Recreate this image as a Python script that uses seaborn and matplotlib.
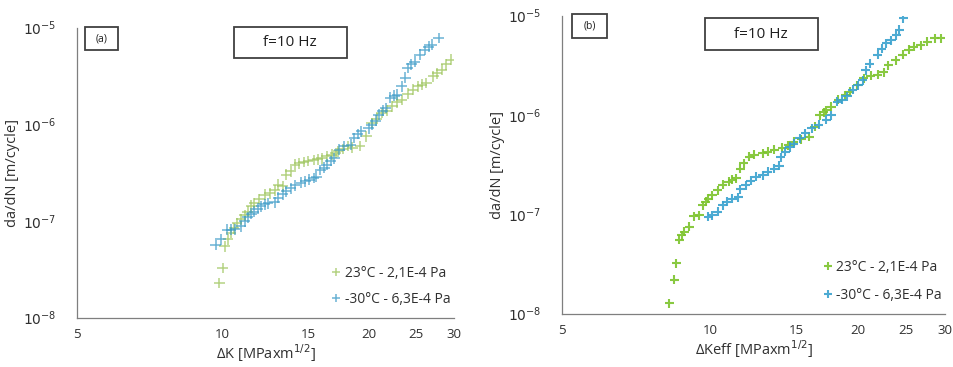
#!/usr/bin/env python3

import pandas as pd
import seaborn as sns
from matplotlib import pyplot as plt
from matplotlib.patches import Rectangle
from matplotlib.ticker import FixedLocator, NullLocator, LogLocator, NullFormatter

# (a) da/dN vs dK
a_green_dk = [9.84, 10.0, 10.1, 10.25, 10.4, 10.55, 10.7, 10.9, 11.1, 11.25, 11.45,
              11.6, 11.9, 12.2, 12.5, 12.8, 13.0, 13.3, 13.5, 13.8, 14.1, 14.4,
              14.7, 15.0, 15.4, 15.7, 16.0, 16.4, 16.8, 17.1, 17.3, 17.7, 18.1,
              18.5, 19.2, 19.8, 20.3, 20.8, 21.3, 21.8, 22.4, 22.9, 23.4, 24.1,
              24.7, 25.3, 25.8, 26.3, 27.2, 27.7, 28.3, 28.9, 29.6]
a_green_rate = [2.3e-8, 3.3e-8, 5.5e-8, 6.5e-8, 7.6e-8, 8.5e-8, 9.6e-8, 1.05e-7,
                1.15e-7, 1.26e-7, 1.45e-7, 1.55e-7, 1.7e-7, 1.88e-7, 1.95e-7,
                2.1e-7, 2.4e-7, 2.3e-7, 3.05e-7, 3.3e-7, 3.85e-7, 4.0e-7, 4.1e-7,
                4.2e-7, 4.3e-7, 4.4e-7, 4.5e-7, 4.7e-7, 4.9e-7, 5.1e-7, 5.3e-7,
                5.6e-7, 6.0e-7, 5.8e-7, 6.0e-7, 7.6e-7, 1.04e-6, 1.15e-6, 1.32e-6,
                1.4e-6, 1.55e-6, 1.7e-6, 1.8e-6, 2.1e-6, 2.3e-6, 2.5e-6, 2.6e-6,
                2.7e-6, 3.15e-6, 3.4e-6, 3.7e-6, 4.2e-6, 4.7e-6]
a_blue_dk = [9.67, 9.9, 10.2, 10.4, 10.6, 10.9, 11.1, 11.25, 11.45, 11.6, 11.8,
             12.0, 12.2, 12.4, 12.8, 13.0, 13.3, 13.5, 13.8, 14.1, 14.5, 14.8,
             15.1, 15.4, 15.6, 15.9, 16.2, 16.4, 16.7, 17.0, 17.4, 17.8, 18.4,
             18.7, 19.0, 19.3, 20.0, 20.3, 20.7, 21.0, 21.4, 21.7, 22.2, 22.6,
             22.9, 23.4, 23.8, 24.1, 24.5, 24.9, 25.5, 26.1, 26.6, 27.0, 27.9]
a_blue_rate = [5.7e-8, 6.5e-8, 8.2e-8, 8.2e-8, 8.3e-8, 8.9e-8, 1.0e-7, 1.1e-7,
               1.2e-7, 1.26e-7, 1.35e-7, 1.43e-7, 1.5e-7, 1.53e-7, 1.58e-7,
               1.75e-7, 1.9e-7, 2.05e-7, 2.2e-7, 2.35e-7, 2.5e-7, 2.6e-7, 2.7e-7,
               2.8e-7, 2.9e-7, 3.4e-7, 3.6e-7, 3.85e-7, 4.2e-7, 4.5e-7, 5.5e-7,
               6.0e-7, 6.2e-7, 7.3e-7, 8.0e-7, 8.5e-7, 9.2e-7, 1.0e-6, 1.1e-6,
               1.27e-6, 1.4e-6, 1.49e-6, 1.9e-6, 2.0e-6, 2.05e-6, 2.5e-6, 3.05e-6,
               3.85e-6, 4.2e-6, 4.5e-6, 5.3e-6, 5.97e-6, 6.4e-6, 6.7e-6, 7.9e-6]

# (b) da/dN vs dKeff
b_green_dk = [8.26, 8.46, 8.53, 8.65, 8.75, 8.85, 9.06, 9.27, 9.5, 9.65, 9.8, 9.9,
              10.1, 10.35, 10.6, 10.9, 11.1, 11.3, 11.5, 11.7, 12.0, 12.3, 12.8,
              13.1, 13.5, 14.0, 14.4, 14.8, 15.3, 15.9, 16.3, 16.7, 17.0, 17.2,
              17.6, 18.2, 18.8, 19.2, 19.9, 20.5, 21.2, 21.9, 22.5, 23.0, 23.8,
              24.6, 25.3, 25.9, 26.8, 27.6, 28.6, 29.5]
b_green_rate = [1.28e-8, 2.2e-8, 3.24e-8, 5.56e-8, 6.2e-8, 6.76e-8, 7.6e-8, 9.6e-8,
                9.9e-8, 1.25e-7, 1.35e-7, 1.45e-7, 1.57e-7, 1.77e-7, 2.0e-7,
                2.15e-7, 2.25e-7, 2.33e-7, 2.9e-7, 3.3e-7, 3.83e-7, 4.0e-7,
                4.15e-7, 4.3e-7, 4.5e-7, 4.7e-7, 5.0e-7, 5.4e-7, 5.75e-7, 6.1e-7,
                7.7e-7, 1.0e-6, 1.07e-6, 1.13e-6, 1.22e-6, 1.43e-6, 1.6e-6,
                1.73e-6, 2.0e-6, 2.36e-6, 2.5e-6, 2.55e-6, 2.7e-6, 3.2e-6, 3.6e-6,
                4.05e-6, 4.6e-6, 4.9e-6, 5.1e-6, 5.5e-6, 5.95e-6, 5.95e-6]
b_blue_dk = [9.9, 10.1, 10.35, 10.6, 10.8, 11.1, 11.4, 11.5, 11.8, 12.1, 12.4,
             12.8, 13.1, 13.5, 13.8, 13.9, 14.2, 14.5, 14.8, 15.2, 15.6, 16.1,
             16.6, 17.2, 17.6, 18.1, 18.5, 19.0, 19.5, 20.0, 20.4, 20.7, 21.1,
             21.9, 22.3, 22.8, 23.3, 23.9, 24.2, 24.7]
b_blue_rate = [9.5e-8, 9.9e-8, 1.07e-7, 1.25e-7, 1.35e-7, 1.45e-7, 1.5e-7, 1.8e-7,
               1.97e-7, 2.2e-7, 2.4e-7, 2.5e-7, 2.7e-7, 2.9e-7, 3.1e-7, 3.8e-7,
               4.3e-7, 4.8e-7, 5.2e-7, 5.9e-7, 6.6e-7, 7.4e-7, 8.0e-7, 9.0e-7,
               1.0e-6, 1.37e-6, 1.43e-6, 1.55e-6, 1.8e-6, 2.0e-6, 2.25e-6, 2.85e-6,
               3.3e-6, 4.05e-6, 4.7e-6, 5.3e-6, 5.7e-6, 6.4e-6, 7.3e-6, 9.5e-6]

labels = ["23°C - 2,1E-4 Pa", "-30°C - 6,3E-4 Pa"]
x_ticks = [5, 10, 15, 20, 25, 30]
y_ticks = [1e-8, 1e-7, 1e-6, 1e-5]
y_tick_labels = ["$10^{-8}$", "$10^{-7}$", "$10^{-6}$", "$10^{-5}$"]


def make_df(g_x, g_y, b_x, b_y):
    g = pd.DataFrame({"dk": g_x, "rate": g_y, "cond": labels[0]})
    b = pd.DataFrame({"dk": b_x, "rate": b_y, "cond": labels[1]})
    return pd.concat([g, b], ignore_index=True)


def style_axes(ax, xlabel):
    ax.set_xscale("log")
    ax.set_yscale("log")
    ax.set_xlim(5, 30)
    ax.set_ylim(1e-8, 1e-5)
    ax.xaxis.set_major_locator(FixedLocator(x_ticks))
    ax.set_xticklabels([str(t) for t in x_ticks])
    ax.xaxis.set_minor_locator(NullLocator())
    ax.yaxis.set_major_locator(FixedLocator(y_ticks))
    ax.set_yticklabels(y_tick_labels)
    ax.yaxis.set_minor_locator(LogLocator(base=10, subs=range(2, 10)))
    ax.yaxis.set_minor_formatter(NullFormatter())
    for s in ["top", "right"]:
        ax.spines[s].set_visible(False)
    for s in ["left", "bottom"]:
        ax.spines[s].set_color("#7f7f7f")
        ax.spines[s].set_linewidth(0.9)
    ax.tick_params(axis="x", which="major", direction="inout", length=6,
                   width=0.8, color="#7f7f7f", labelsize=9.5,
                   labelcolor="#303030", pad=4)
    ax.tick_params(axis="y", which="major", direction="out", length=5,
                   width=0.8, color="#7f7f7f", labelsize=10,
                   labelcolor="#303030", pad=10)
    ax.tick_params(axis="y", which="minor", direction="inout", length=4,
                   width=0.6, color="#7f7f7f")
    ax.set_xlabel(xlabel, fontsize=10.5, color="#303030", labelpad=1)
    ax.set_ylabel("da/dN [m/cycle]", fontsize=10.5, color="#303030",
                  labelpad=2)


def add_box(ax, x0, y0, x1, y1, text, size):
    ax.add_patch(Rectangle((x0, y0), x1 - x0, y1 - y0, transform=ax.transAxes,
                           facecolor="white", edgecolor="#404040",
                           linewidth=1.3, clip_on=False, zorder=5))
    ax.text((x0 + x1) / 2, (y0 + y1) / 2, text, transform=ax.transAxes,
            ha="center", va="center", fontsize=size, color="#202020",
            zorder=6)


sns.set_style("white")
plt.rcParams["font.family"] = ["Open Sans", "DejaVu Sans"]

fig = plt.figure(figsize=(9.54, 3.67), dpi=100)
ax1 = fig.add_axes([0.0807, 0.1335, 0.3950, 0.7902])
ax2 = fig.add_axes([0.5891, 0.1444, 0.4015, 0.8120])

df_a = make_df(a_green_dk, a_green_rate, a_blue_dk, a_blue_rate)
df_b = make_df(b_green_dk, b_green_rate, b_blue_dk, b_blue_rate)

sns.scatterplot(data=df_a, x="dk", y="rate", hue="cond", ax=ax1, marker="+",
                s=60, linewidth=1.1, alpha=0.75,
                palette={labels[0]: "#9cc45a", labels[1]: "#3a9ac6"})
sns.scatterplot(data=df_b, x="dk", y="rate", hue="cond", ax=ax2, marker="+",
                s=42, linewidth=1.5, alpha=0.9,
                palette={labels[0]: "#7cc42c", labels[1]: "#3aa2cf"})

style_axes(ax1, "ΔK [MPaxm$^{1/2}$]")
style_axes(ax2, "ΔKeff [MPaxm$^{1/2}$]")

add_box(ax1, 0.021, 0.924, 0.109, 1.003, "(a)", 7.5)
add_box(ax1, 0.416, 0.897, 0.716, 1.003, "f=10 Hz", 11)
add_box(ax2, 0.026, 0.926, 0.118, 1.007, "(b)", 7.5)
add_box(ax2, 0.373, 0.886, 0.668, 0.993, "f=10 Hz", 11)

for ax, ls in [(ax1, 0.8), (ax2, 0.95)]:
    leg = ax.legend(loc="lower right", bbox_to_anchor=(1.02, 0.0),
                    frameon=False, fontsize=10, handletextpad=0.1,
                    handlelength=1.0, labelspacing=ls, borderpad=0.3,
                    markerscale=0.8)
    for t in leg.get_texts():
        t.set_color("#303030")

fig.savefig("out.png", dpi=100)
